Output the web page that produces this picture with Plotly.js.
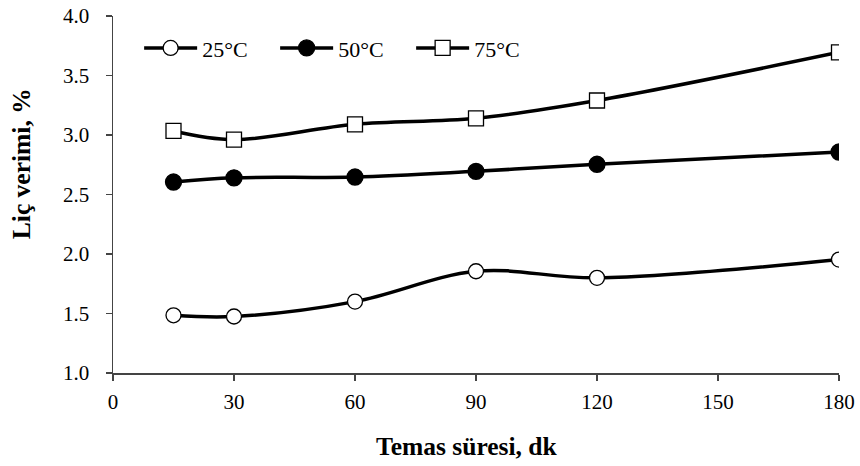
<!DOCTYPE html>
<html>
<head>
<meta charset="utf-8">
<script src="https://cdn.plot.ly/plotly-3.0.1.min.js"></script>
<style>html,body{margin:0;padding:0;background:#fff;}#chart{width:860px;height:466px;}</style>
</head>
<body>
<div id="chart"></div>
<script>
const times = [15, 30, 60, 90, 120, 180];
const seriesNames = ['25°C', '50°C', '75°C'];
const y25 = [1.485, 1.475, 1.60, 1.855, 1.80, 1.953];
const y50 = [2.605, 2.64, 2.647, 2.695, 2.754, 2.857];
const y75 = [3.034, 2.961, 3.09, 3.14, 3.29, 3.695];
const xTicks = [0, 30, 60, 90, 120, 150, 180];
const yTicks = [1.0, 1.5, 2.0, 2.5, 3.0, 3.5, 4.0];
const xTitle = 'Temas süresi, dk';
const yTitle = 'Liç verimi, %';

const font = 'Liberation Serif, Times New Roman, serif';
function tr(y, name, symbol, fill, size) {
  return {
    x: times, y: y, name: name, type: 'scatter', mode: 'lines+markers',
    line: {color: '#000', width: 3.5, shape: 'spline', smoothing: 1},
    marker: {symbol: symbol, size: size, color: fill, line: {color: '#000', width: 1.3}}
  };
}
const data = [
  tr(y25, seriesNames[0], 'circle', '#fff', 15),
  tr(y50, seriesNames[1], 'circle', '#000', 16),
  tr(y75, seriesNames[2], 'square', '#fff', 15)
];
const titleFont = {family: font, size: 25.5, color: '#000', weight: 'bold'};
const layout = {
  width: 860, height: 466,
  margin: {l: 113, r: 21, t: 16, b: 93},
  paper_bgcolor: '#fff', plot_bgcolor: '#fff',
  font: {family: font, size: 21, color: '#000'},
  showlegend: true,
  legend: {orientation: 'h', x: 0.036, y: 0.91, xanchor: 'left', yanchor: 'middle',
           font: {family: font, size: 22, color: '#000'}, bgcolor: 'rgba(0,0,0,0)',
           itemwidth: 53, entrywidth: 68, entrywidthmode: 'pixels'},
  xaxis: {
    range: [0, 180], tickvals: xTicks, ticktext: xTicks.map(String),
    showgrid: false, zeroline: false, showline: true, linecolor: '#444', linewidth: 1.5,
    ticks: 'outside', ticklen: 6, tickcolor: '#444', tickwidth: 1.5,
    ticklabelstandoff: 3,
    tickfont: {family: font, size: 21, color: '#000'}
  },
  yaxis: {
    range: [1.0, 4.0], tickvals: yTicks, ticktext: yTicks.map(v => v.toFixed(1)),
    showgrid: false, zeroline: false, showline: true, linecolor: '#444', linewidth: 1.5,
    ticks: 'outside', ticklen: 6, tickcolor: '#444', tickwidth: 1.5,
    ticklabelstandoff: 12,
    tickfont: {family: font, size: 21, color: '#000'}
  },
  annotations: [
    {text: xTitle, xref: 'paper', yref: 'paper', x: 0.4876, y: -0.2045,
     xanchor: 'center', yanchor: 'middle', showarrow: false, font: titleFont},
    {text: yTitle, xref: 'paper', yref: 'paper', x: -0.1267, y: 0.585, textangle: -90,
     xanchor: 'center', yanchor: 'middle', showarrow: false, font: titleFont}
  ]
};
Plotly.newPlot('chart', data, layout, {staticPlot: true, displayModeBar: false});
</script>
</body>
</html>
